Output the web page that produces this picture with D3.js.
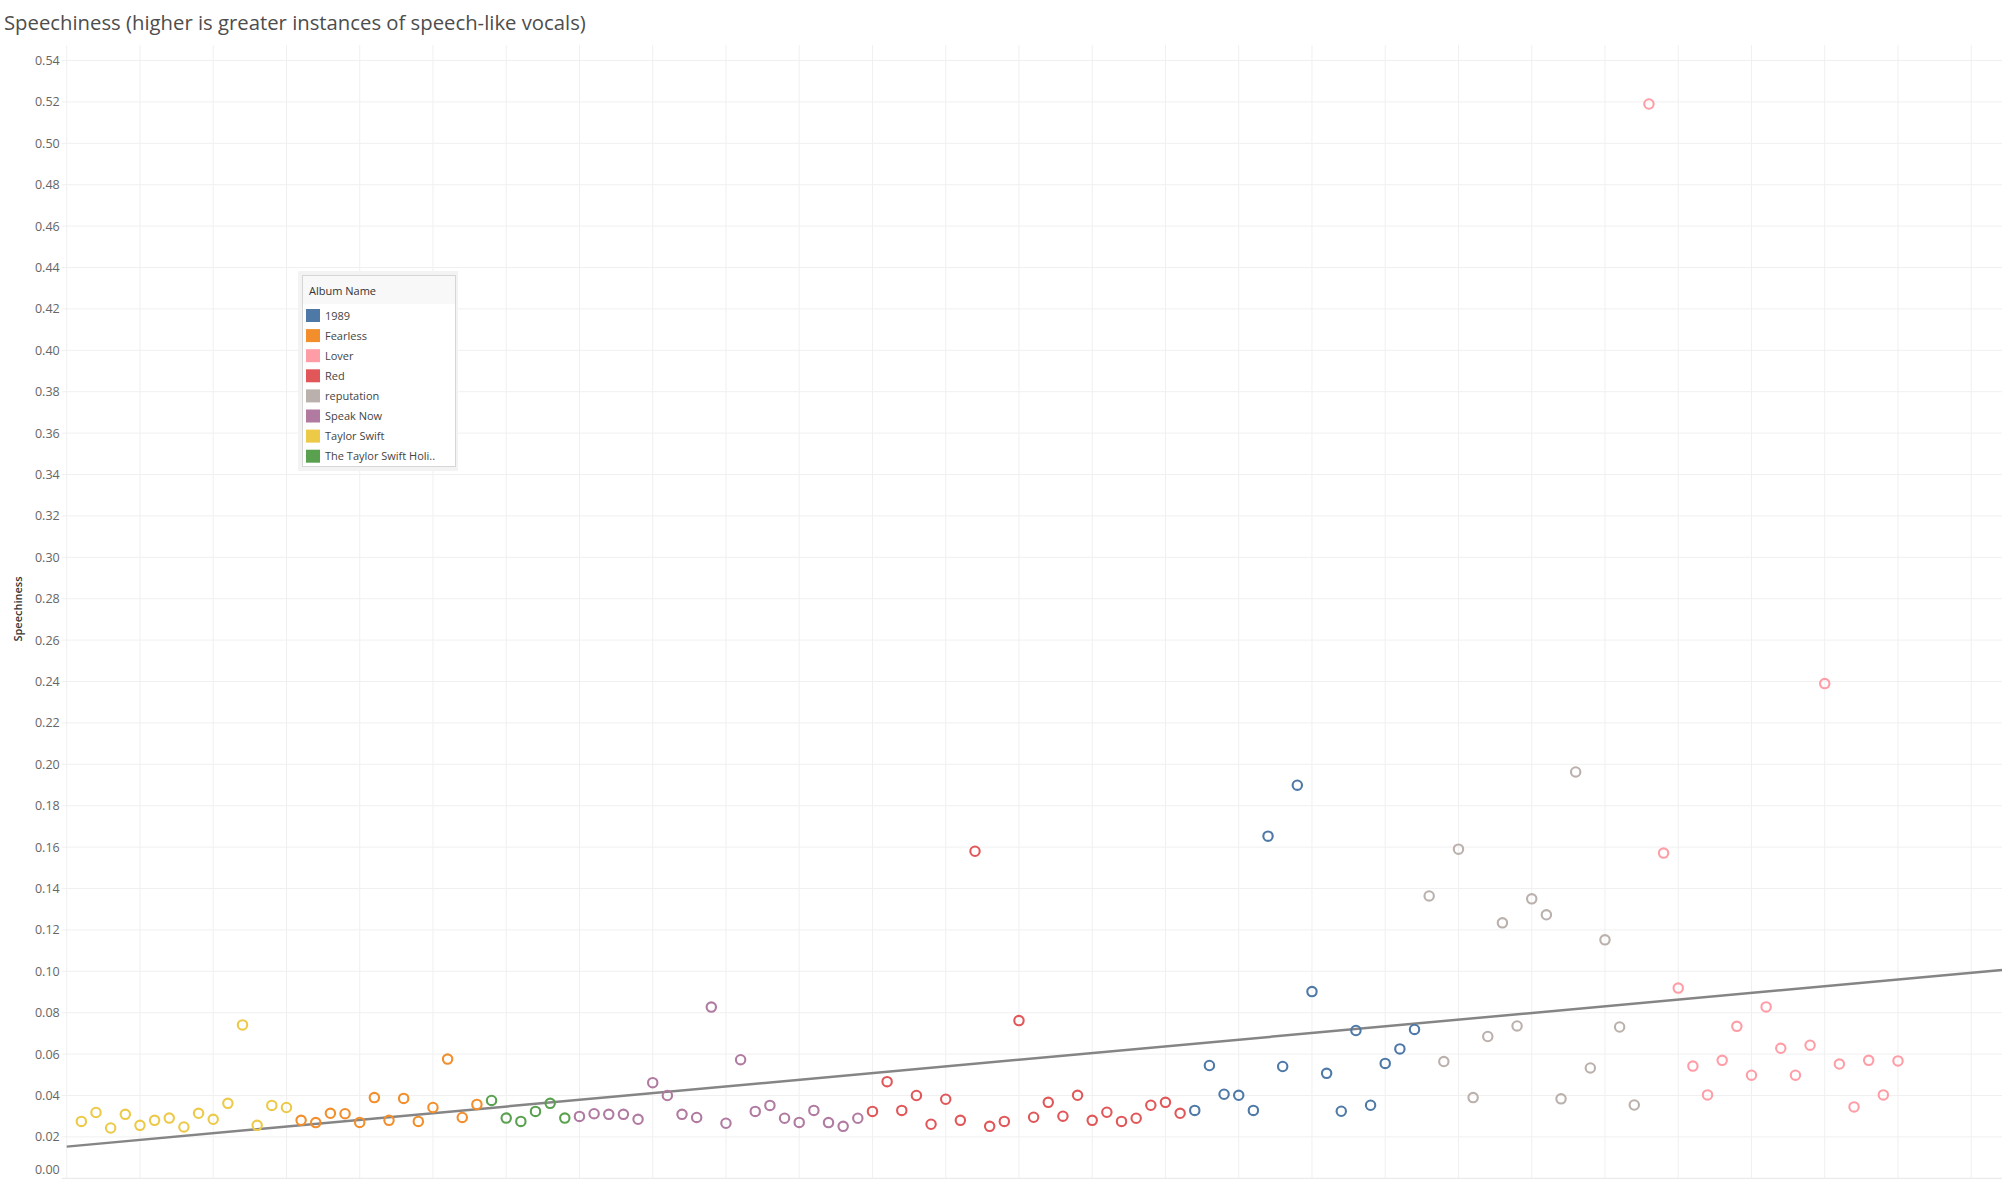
<!DOCTYPE html>
<html>
<head>
<meta charset="utf-8">
<script src="https://cdn.jsdelivr.net/npm/d3@7/dist/d3.min.js"></script>
<style>
  body { margin: 0; background: #fff; }
  text { font-family: "Open Sans", sans-serif; }
</style>
</head>
<body>
<svg id="scatter" width="2007" height="1185"></svg>
<script>
	// speechiness per track, in album order along the x axis
	var albumOrder = ["Taylor Swift", "Fearless", "The Taylor Swift Holiday Collection", "Speak Now", "Red", "1989", "reputation", "Lover"];

	var taylorSwift = [0.0275, 0.0318, 0.0243, 0.0309, 0.0256, 0.028, 0.0291, 0.0248, 0.0314, 0.0285, 0.0362, 0.0741, 0.0256, 0.0352, 0.0342];
	var fearless = [0.028, 0.0269, 0.0314, 0.0312, 0.027, 0.039, 0.028, 0.0386, 0.0275, 0.0342, 0.0576, 0.0294, 0.0357];
	var holiday = [0.0376, 0.0291, 0.0275, 0.0323, 0.0362, 0.0291];
	var speakNow = [0.0299, 0.0312, 0.0309, 0.0309, 0.0285, 0.0462, 0.04, 0.0309, 0.0294, 0.0827, 0.0266, 0.0573, 0.0323, 0.0352, 0.029, 0.027, 0.0328, 0.0269, 0.0251, 0.029];
	var red = [0.0323, 0.0467, 0.0328, 0.04, 0.0261, 0.0382, 0.028, 0.158, 0.0251, 0.0275, 0.0762, 0.0295, 0.0367, 0.03, 0.0401, 0.028, 0.0319, 0.0275, 0.029, 0.0353, 0.0367, 0.0314];
	var album1989 = [0.0328, 0.0545, 0.0406, 0.0401, 0.0328, 0.1653, 0.054, 0.1899, 0.0902, 0.0507, 0.0324, 0.0714, 0.0353, 0.0555, 0.0625, 0.0719];
	var reputation = [0.1364, 0.0564, 0.159, 0.039, 0.0685, 0.1234, 0.0736, 0.135, 0.1273, 0.0384, 0.1963, 0.0533, 0.1152, 0.0731, 0.0354];
	var lover = [0.519, 0.1571, 0.0919, 0.0542, 0.0403, 0.057, 0.0734, 0.0498, 0.0828, 0.0628, 0.0498, 0.0643, 0.239, 0.0552, 0.0345, 0.057, 0.0403, 0.0567];

	var albumValues = [taylorSwift, fearless, holiday, speakNow, red, album1989, reputation, lover];

	// legend order and labels as tableau shows them
	var legendAlbums = ["1989", "Fearless", "Lover", "Red", "reputation", "Speak Now", "Taylor Swift", "The Taylor Swift Holiday Collection"];
	var legendLabels = ["1989", "Fearless", "Lover", "Red", "reputation", "Speak Now", "Taylor Swift", "The Taylor Swift Holi.."];
	var albumColors = ["#4e79a7", "#f28e2b", "#ff9da7", "#e15759", "#bab0ac", "#b07aa1", "#edc948", "#59a14f"];

	var yTicks = d3.range(0, 0.5401, 0.02);

	var svg = d3.select("#scatter"),
	    plotLeft = 66.7, plotRight = 2002, plotTop = 45, plotBottom = 1178.3;

	var tracks = [];
	var n = 0;
	albumValues.forEach(function(vals, a) {
		vals.forEach(function(v) {
			n++;
			tracks.push({idx: n, album: albumOrder[a], speechiness: v});
		});
	});

	var x = d3.scaleLinear().domain([0, 132.1]).range([plotLeft, plotRight]),
	    y = d3.scaleLinear().domain([0, 0.5475]).range([plotBottom, plotTop]),
	    color = d3.scaleOrdinal().domain(legendAlbums).range(albumColors);

	// grid
	svg.append("g")
		.selectAll("line")
		.data(d3.range(0, 132, 5))
		.enter().append("line")
		.attr("x1", function(d) { return x(d); })
		.attr("x2", function(d) { return x(d); })
		.attr("y1", plotTop)
		.attr("y2", plotBottom)
		.attr("stroke", "#f0f0f0")
		.attr("stroke-width", 1);

	svg.append("g")
		.selectAll("line")
		.data(yTicks)
		.enter().append("line")
		.attr("x1", plotLeft - 5)
		.attr("x2", plotRight)
		.attr("y1", function(d) { return y(d); })
		.attr("y2", function(d) { return y(d); })
		.attr("stroke", function(d) { return d == 0 ? "#e6e6e6" : "#f0f0f0"; })
		.attr("stroke-width", 1);

	// y axis
	var yAxis = svg.append("g")
		.attr("transform", "translate(" + (plotLeft - 7) + ",0)")
		.call(d3.axisLeft(y).tickValues(yTicks).tickFormat(d3.format(".2f")).tickSize(0).tickPadding(0));
	yAxis.select(".domain").remove();
	yAxis.selectAll("text")
		.attr("font-family", "Open Sans, sans-serif")
		.attr("font-size", 12.5)
		.attr("fill", "#666")
		.attr("dy", function(d) { return d == 0 ? "-0.4em" : "0.32em"; });

	svg.append("text")
		.attr("transform", "translate(22,609) rotate(-90)")
		.attr("text-anchor", "middle")
		.attr("font-size", 11)
		.attr("font-weight", 600)
		.attr("fill", "#333")
		.text("Speechiness");

	svg.append("text")
		.attr("x", 4)
		.attr("y", 30)
		.attr("font-size", 20.3)
		.attr("fill", "#4d4d4d")
		.text("Speechiness (higher is greater instances of speech-like vocals)");

	// linear trend line
	var mx = d3.mean(tracks, function(d) { return d.idx; }),
	    my = d3.mean(tracks, function(d) { return d.speechiness; });
	var slope = d3.sum(tracks, function(d) { return (d.idx - mx) * (d.speechiness - my); }) /
	            d3.sum(tracks, function(d) { return (d.idx - mx) * (d.idx - mx); });
	var intercept = my - slope * mx;
	var xd = x.domain();

	svg.append("line")
		.attr("x1", x(xd[0]))
		.attr("y1", y(intercept + slope * xd[0]))
		.attr("x2", x(xd[1]))
		.attr("y2", y(intercept + slope * xd[1]))
		.attr("stroke", "#858585")
		.attr("stroke-width", 2.5);

	// points
	svg.append("g")
		.selectAll("circle")
		.data(tracks)
		.enter().append("circle")
		.attr("cx", function(d) { return x(d.idx); })
		.attr("cy", function(d) { return y(d.speechiness); })
		.attr("r", 4.7)
		.attr("fill", "none")
		.attr("stroke", function(d) { return color(d.album); })
		.attr("stroke-width", 2.1);

	// legend
	var lg = svg.append("g").attr("transform", "translate(298,271)");
	lg.append("rect")
		.attr("width", 160).attr("height", 200)
		.attr("fill", "#f3f3f3");
	lg.append("rect")
		.attr("x", 4.5).attr("y", 4.5)
		.attr("width", 153).attr("height", 191)
		.attr("fill", "#fff")
		.attr("stroke", "#d6d6d6");
	lg.append("rect")
		.attr("x", 5).attr("y", 5)
		.attr("width", 152).attr("height", 28)
		.attr("fill", "#f8f8f8");
	lg.append("text")
		.attr("x", 11).attr("y", 24)
		.attr("font-size", 11)
		.attr("fill", "#333")
		.text("Album Name");

	var item = lg.selectAll(".legend")
		.data(legendAlbums)
		.enter().append("g")
		.attr("class", "legend")
		.attr("transform", function(d, i) { return "translate(8," + (38 + i * 20.1) + ")"; });
	item.append("rect")
		.attr("width", 14).attr("height", 13)
		.attr("fill", function(d) { return color(d); });
	item.append("text")
		.attr("x", 19).attr("y", 10.5)
		.attr("font-size", 11)
		.attr("fill", "#444")
		.text(function(d, i) { return legendLabels[i]; });
</script>
</body>
</html>
